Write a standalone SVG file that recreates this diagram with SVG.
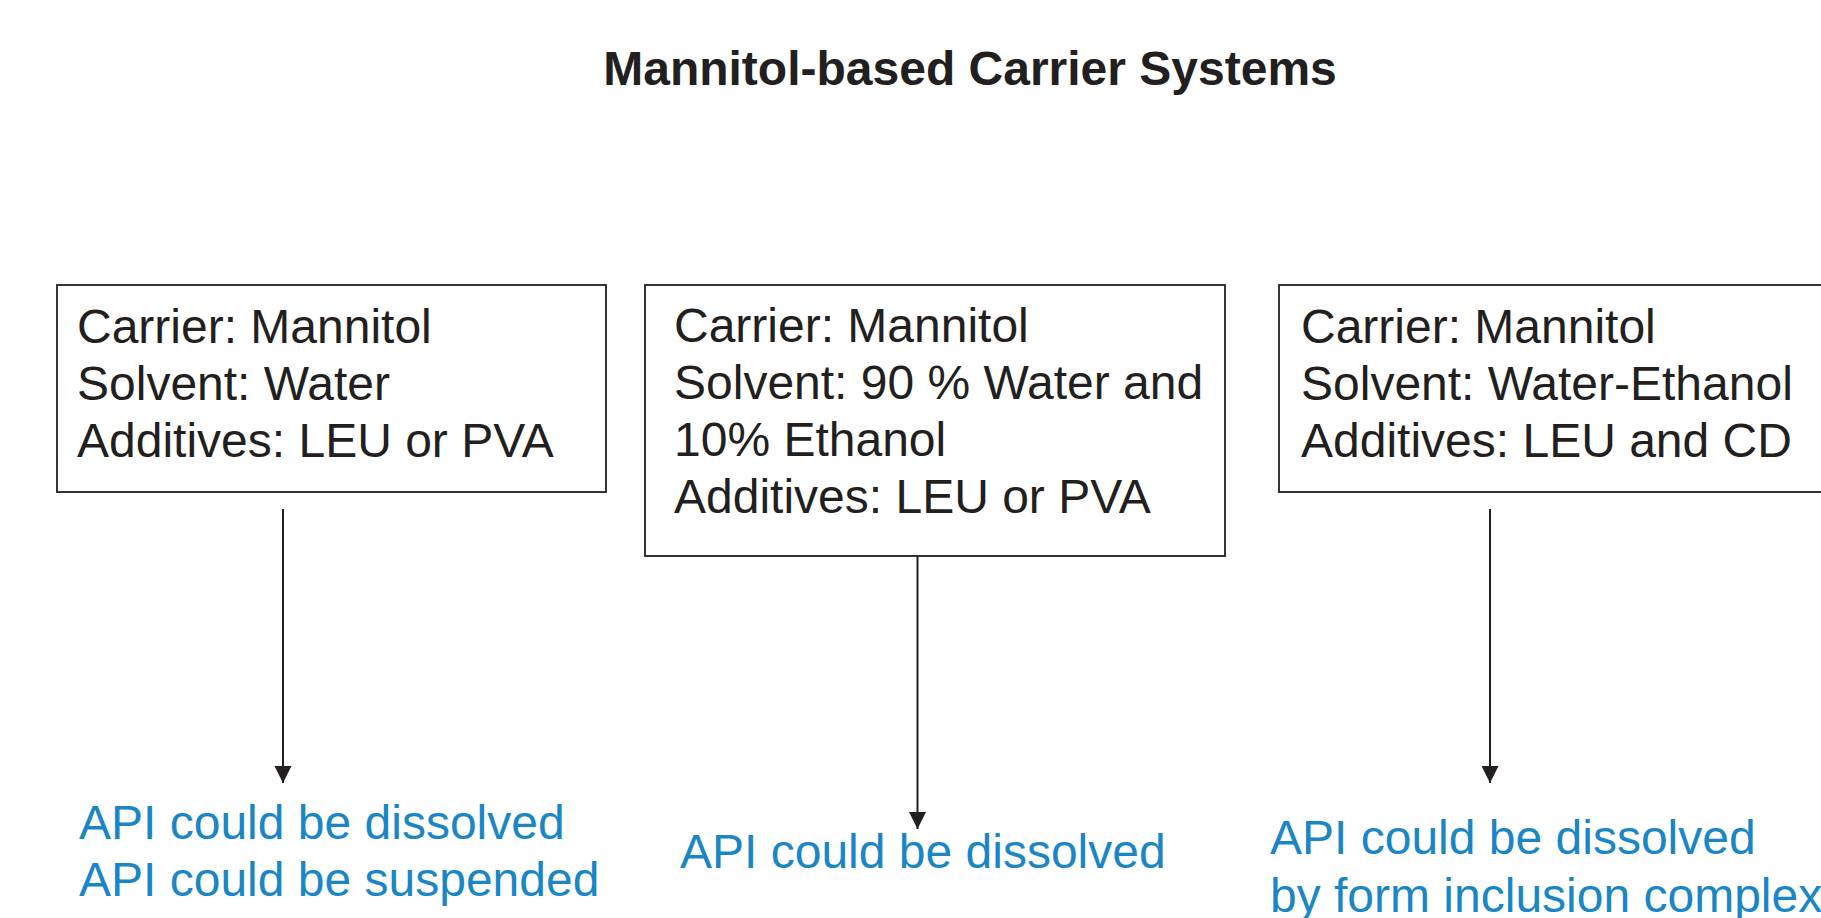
<svg xmlns="http://www.w3.org/2000/svg" width="1821" height="918" viewBox="0 0 1821 918">
<style>
.bg{fill:#ffffff}
.box{fill:#ffffff;stroke:#231f20;stroke-width:1.8}
.t{font-family:"Liberation Sans",Arial,sans-serif;font-size:48px;fill:#231f20}
.title{font-family:"Liberation Sans",Arial,sans-serif;font-size:48px;font-weight:bold;fill:#231f20}
.r{font-family:"Liberation Sans",Arial,sans-serif;font-size:48px;fill:#1a86c6}
.c{stroke:#231f20;stroke-width:2;fill:none}
</style>
<defs>
<marker id="ah" markerUnits="userSpaceOnUse" markerWidth="18" markerHeight="18" refX="17" refY="8.5" orient="auto">
<path d="M0,0 L17,8.5 L0,17 Z" fill="#231f20"/>
</marker>
</defs>
<rect class="bg" x="0" y="0" width="1821" height="918"/>
<g id="title">
<text class="title" x="970" y="85" text-anchor="middle">Mannitol-based Carrier Systems</text>
</g>
<g id="box1">
<rect class="box" x="57" y="285" width="549" height="207"/>
<text class="t" x="77" y="343">Carrier: Mannitol</text>
<text class="t" x="77" y="400">Solvent: Water</text>
<text class="t" x="77" y="457">Additives: LEU or PVA</text>
</g>
<g id="box2">
<rect class="box" x="645" y="285" width="580" height="271"/>
<text class="t" x="674" y="342">Carrier: Mannitol</text>
<text class="t" x="674" y="399">Solvent: 90 % Water and</text>
<text class="t" x="674" y="456">10% Ethanol</text>
<text class="t" x="674" y="513">Additives: LEU or PVA</text>
</g>
<g id="box3">
<rect class="box" x="1279" y="285" width="560" height="207"/>
<text class="t" x="1301" y="343">Carrier: Mannitol</text>
<text class="t" x="1301" y="400">Solvent: Water-Ethanol</text>
<text class="t" x="1301" y="457">Additives: LEU and CD</text>
</g>
<g id="result1">
<text class="r" x="79" y="839">API could be dissolved</text>
<text class="r" x="79" y="896">API could be suspended</text>
</g>
<g id="result2">
<text class="r" x="680" y="868">API could be dissolved</text>
</g>
<g id="result3">
<text class="r" x="1270" y="854">API could be dissolved</text>
<text class="r" x="1270" y="912">by form inclusion complex</text>
</g>
<g id="connectors">
<line class="c" x1="283" y1="509" x2="283" y2="783" marker-end="url(#ah)"/>
<line class="c" x1="917.5" y1="556" x2="917.5" y2="829" marker-end="url(#ah)"/>
<line class="c" x1="1490" y1="509" x2="1490" y2="783" marker-end="url(#ah)"/>
</g>
</svg>
